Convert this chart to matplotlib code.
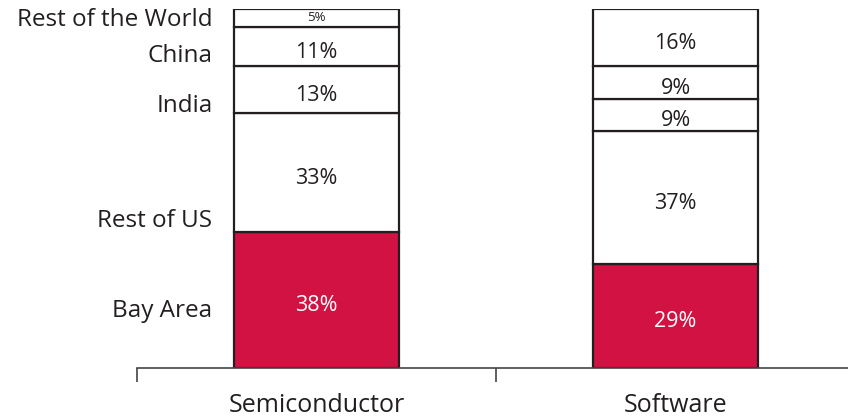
import numpy as np
import matplotlib
matplotlib.use('Agg')
import matplotlib.pyplot as plt

# Data
industries = ['Semiconductor', 'Software']
regions = ['Bay Area', 'Rest of US', 'India', 'China', 'Rest of the World']
semiconductor = [38, 33, 13, 11, 5]
software = [29, 37, 9, 9, 16]

# Where the region names sit on the left (percent of bar height)
region_label_y = [16, 41, 73, 87, 97]

RED = '#d21242'
EDGE = '#231f20'

plt.rcParams['font.family'] = ['Open Sans', 'DejaVu Sans']

fig = plt.figure(figsize=(8.48, 4.17), dpi=100)
ax = fig.add_axes([137 / 848, 49 / 417, 711 / 848, 359 / 417])

x = np.arange(len(industries))
width = 0.46
values = np.array([semiconductor, software])

bottoms = np.zeros(len(industries))
for j, reg in enumerate(regions):
	col = values[:, j]
	fc = RED if j == 0 else 'white'
	ax.bar(x, col, width, bottom=bottoms, color=fc, edgecolor=EDGE,
		   linewidth=1.6, zorder=2)
	for i in range(len(industries)):
		small = col[i] <= 5
		ax.text(x[i], bottoms[i] + col[i] / 2 - (0 if small else 1.6), f'{col[i]}%',
				ha='center', va='center', fontsize=9.5 if small else 15.5,
				color='white' if j == 0 else '#231f20', zorder=3)
	bottoms += col

for reg, yl in zip(regions, region_label_y):
	ax.text(-0.29, yl, reg, ha='right', va='center', fontsize=17.5,
			color='#231f20', transform=ax.transData, clip_on=False)

ax.set_xlim(-0.5, 1.48)
ax.set_ylim(0, 100)

for s in ['top', 'right', 'left']:
	ax.spines[s].set_visible(False)
ax.spines['bottom'].set_color('#444444')
ax.spines['bottom'].set_linewidth(1.2)
ax.set_yticks([])

ax.set_xticks([-0.5, 0.5])
ax.set_xticklabels([])
ax.tick_params(axis='x', which='major', length=10, width=1.2, color='#444444', direction='out')
ax.set_xticks(x, minor=True)
ax.set_xticklabels(industries, minor=True, fontsize=18, color='#231f20')
ax.tick_params(axis='x', which='minor', length=0, pad=18)

fig.savefig('out.png', dpi=100)
